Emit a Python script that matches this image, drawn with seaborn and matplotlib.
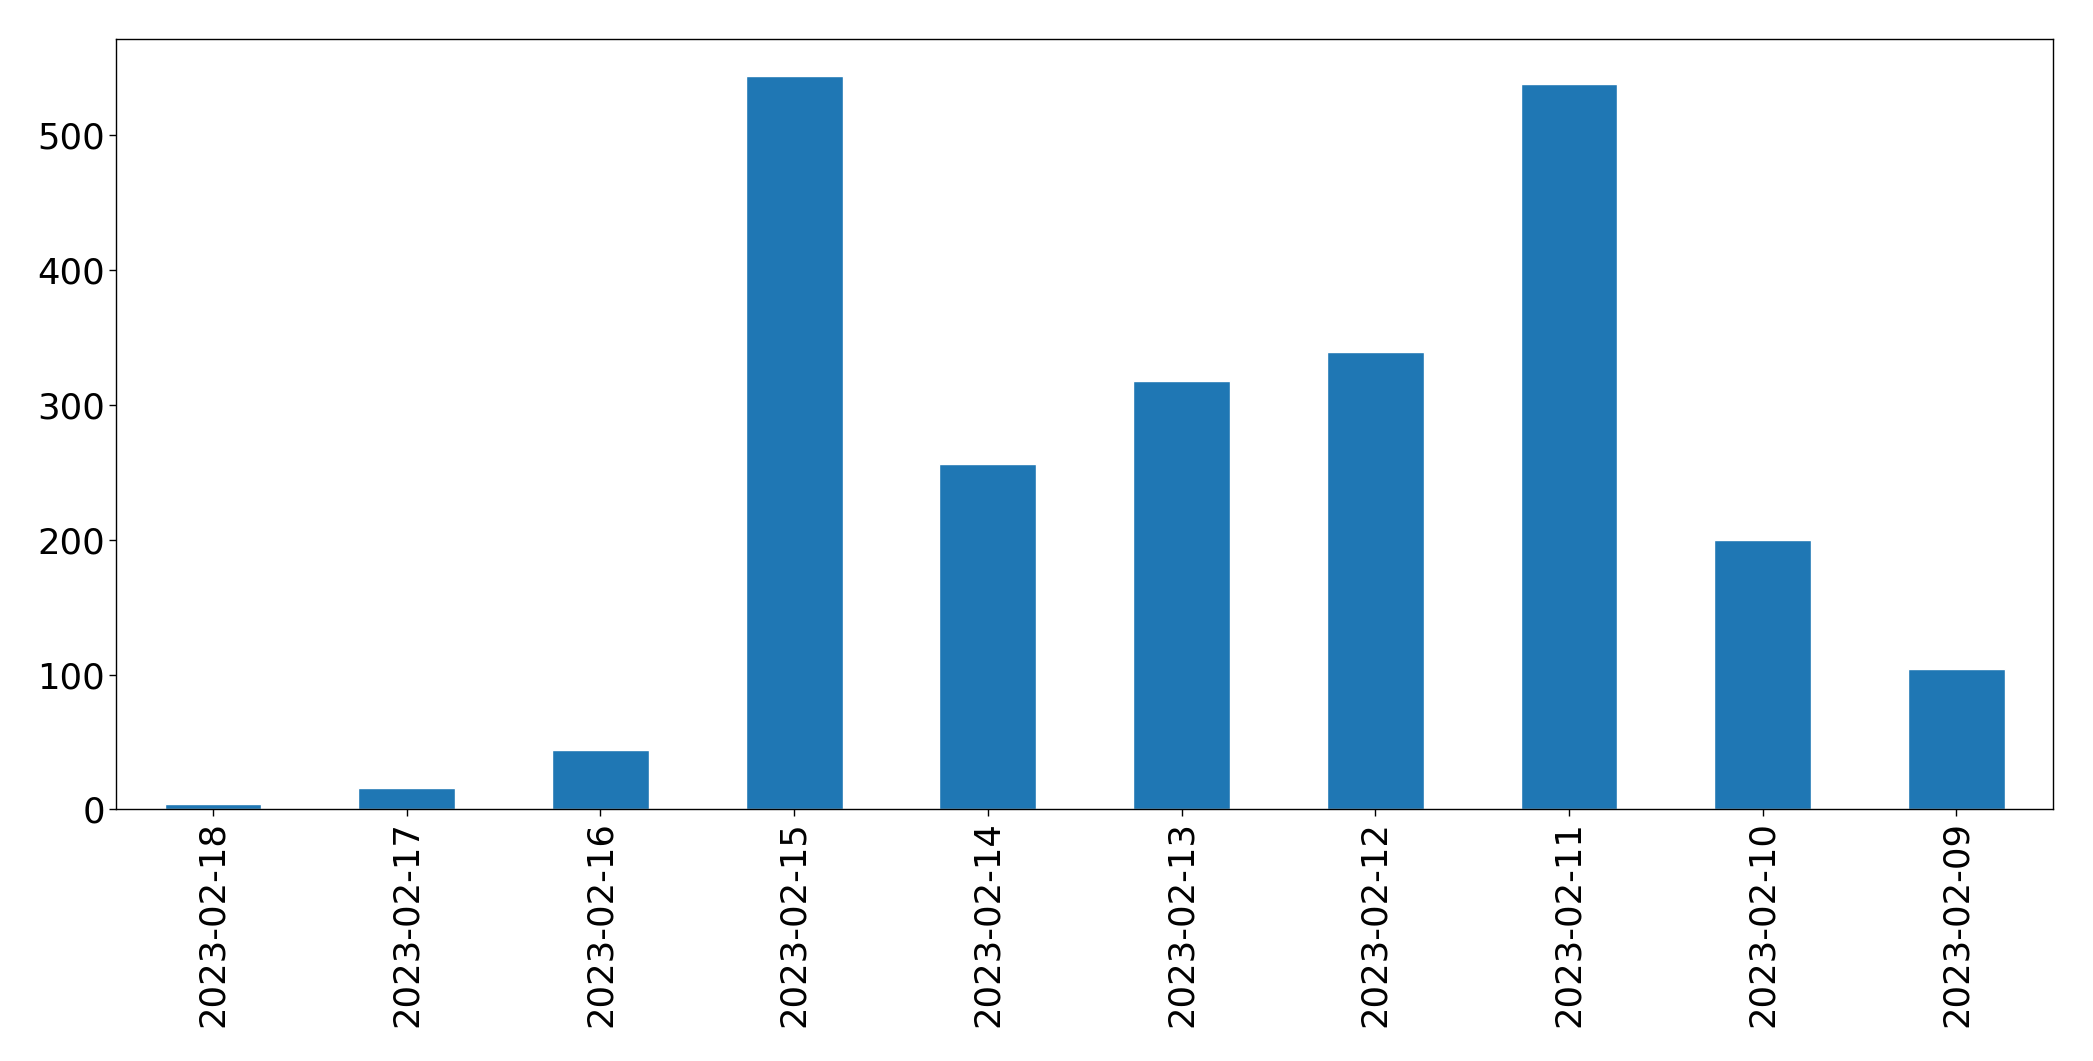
import matplotlib
matplotlib.use("Agg")
import matplotlib.pyplot as plt
import seaborn as sns
import pandas as pd

dates = ["2023-02-18", "2023-02-17", "2023-02-16", "2023-02-15", "2023-02-14",
         "2023-02-13", "2023-02-12", "2023-02-11", "2023-02-10", "2023-02-09"]
counts = [4, 16, 44, 544, 256, 318, 339, 538, 200, 104]

df = pd.DataFrame({"date": dates, "count": counts})

sns.set_style("ticks")
plt.rcParams["font.family"] = ["DejaVu Sans"]
plt.rcParams["text.color"] = "black"
plt.rcParams["xtick.color"] = "black"
plt.rcParams["ytick.color"] = "black"
plt.rcParams["axes.edgecolor"] = "black"

fig = plt.figure(figsize=(20.93, 10.61), dpi=100)
ax = fig.add_axes([0.0555, 0.2372, 0.9255, 0.7258])
sns.barplot(data=df, x="date", y="count", order=dates, color="#1f77b4",
            saturation=1, width=0.5, ax=ax)
ax.set_xlim(-0.5, len(dates) - 0.5)
ax.set_ylim(0, max(counts) * 1.05)
ax.set_xlabel("")
ax.set_ylabel("")
ax.set_yticks([0, 100, 200, 300, 400, 500])
ax.tick_params(axis="both", labelsize=25.5, colors="black", length=4.7, width=1.0)
plt.setp(ax.get_xticklabels(), rotation=90)
for s in ax.spines.values():
    s.set_visible(True)
    s.set_linewidth(1.0)
    s.set_color("black")
fig.savefig("out.png", dpi=100)
